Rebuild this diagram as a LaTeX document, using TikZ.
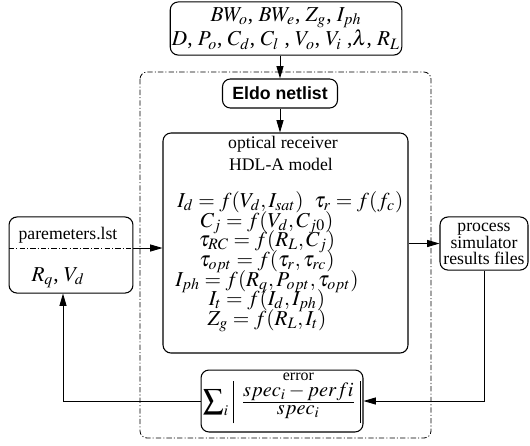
\documentclass[tikz,border=0pt]{standalone}
\usepackage{amsmath}
\usepackage{mathptmx}
\usepackage[no-math]{fontspec}
\setmainfont{Liberation Serif}
\setsansfont{Liberation Sans}
\usepackage{tikz}
\usetikzlibrary{arrows.meta}

\newcommand{\errbar}{\vrule height 14.9pt depth 9.1pt width 0.5pt}

\tikzset{
  box/.style={draw, rounded corners=4.5pt, line width=0.6pt, inner sep=1pt},
  flow/.style={-{Triangle[length=7pt,width=4pt]}, line width=0.5pt},
  frame/.style={dash pattern=on 3pt off 1.2pt on 0.6pt off 1.2pt, line width=0.45pt},
  eq/.style={font=\large, inner sep=0pt, anchor=base},
}

\begin{document}
\begin{tikzpicture}[x=0.565pt, y=-0.565pt]
\useasboundingbox (0,0) rectangle (530,445);
% outer frame
\draw[frame, rounded corners=4pt] (140,72) rectangle (431,438);
% boxes
\node[box, align=center, font=\large, minimum width=130pt, minimum height=30pt] (top) at (286,28.5)
  {$BW_o$, $BW_e$, $Z_g$, $I_{ph}$\\ $D$, $P_o$, $C_d$, $C_l$ , $V_o$, $V_i$ ,$\lambda$, $R_L$};
\node[box, font=\bfseries\sffamily, minimum width=65pt, minimum height=16.4pt] (eldo) at (280,93.5) {Eldo netlist};
\node[box, minimum width=138.4pt, minimum height=124.3pt] (model) at (285.5,243) {};
\node[box, minimum width=70pt, minimum height=43pt] (params) at (71,255) {};
\node[box, align=center, minimum width=49.7pt, minimum height=30pt, font=\fontsize{10}{8.5}\selectfont] (proc) at (484,243.5)
  {process\\simulator\\results files};
\node[box, font=\fontsize{11.5}{13}\selectfont, minimum width=91.5pt, minimum height=35pt] (err) at (282,401)
  {$\displaystyle\sum\nolimits_i \;\errbar\;\textstyle\frac{\overset{\smash{\mbox{\fontsize{9}{9}\selectfont error}}}{\textstyle spec_i - perfi}}{\textstyle spec_i}\;\errbar$};
% texts in the model box
\node[anchor=base, inner sep=0pt] (hdrA) at (283,148) {optical receiver};
\node[anchor=base, inner sep=0pt] (hdrB) at (281,170) {HDL-A model};
\node[eq, anchor=base west] (eqA) at (177,207) {$I_d = f(V_d, I_{sat})$\ \ $\tau_r = f(f_c)$};
\node[eq] (eqB) at (267,227) {$C_j = f(V_d, C_{j0})$};
\node[eq] (eqC) at (267,246) {$\tau_{RC} = f(R_L, C_j)$};
\node[eq] (eqD) at (267,266) {$\tau_{opt} = f(\tau_r, \tau_{rc})$};
\node[eq] (eqE) at (267,286) {$I_{ph} = f(R_q, P_{opt}, \tau_{opt})$};
\node[eq] (eqF) at (267,305) {$I_t = f(I_d, I_{ph})$};
\node[eq] (eqG) at (267,325) {$Z_g = f(R_L, I_t)$};
% texts in the parameters box
\node[anchor=base, inner sep=0pt] (plst) at (68,239) {paremeters.lst};
\node[eq] (pvar) at (58,281) {$R_q$, $V_d$};
\coordinate (sep) at (9,248);
\coordinate (fb) at (63,401);
% connectors
\draw[flow] (top.south -| eldo.north) -- (eldo.north);
\draw[flow] (eldo.south) -- (eldo.south |- model.north);
\draw[frame] (sep) -- (sep -| params.east);
\draw[flow] (sep -| params.east) -- (sep -| model.west);
\draw[flow] (model.east |- proc.west) -- (proc.west);
\draw[flow] (proc.south) -- (proc.south |- err.east) -- (err.east);
\draw[flow] (err.west) -- (fb) -- (fb |- params.south);
\end{tikzpicture}
\end{document}
